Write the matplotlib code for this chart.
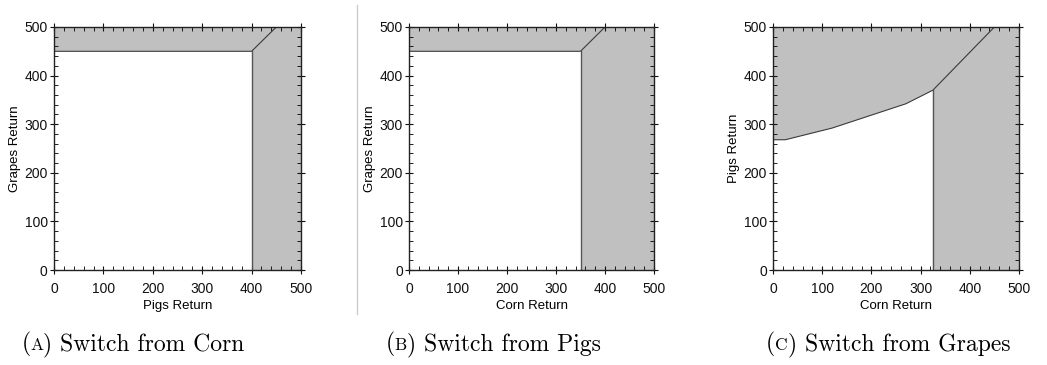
import matplotlib
matplotlib.use("Agg")
import matplotlib.pyplot as plt
from matplotlib.ticker import MultipleLocator
from matplotlib.lines import Line2D

# ---- data ----
x_labels = ["Pigs Return", "Corn Return", "Corn Return"]
y_labels = ["Grapes Return", "Grapes Return", "Pigs Return"]
caption_letters = ["A", "B", "C"]
caption_texts = ["Switch from Corn", "Switch from Pigs", "Switch from Grapes"]

# boundary of the white (stay) region, panel A
a_top_x = [0, 400, 450]
a_top_y = [450, 450, 500]
a_vert_x = [400, 400]
a_vert_y = [0, 450]

# panel B
b_top_x = [0, 350, 400]
b_top_y = [450, 450, 500]
b_vert_x = [350, 350]
b_vert_y = [0, 450]

# panel C
c_top_x = [0, 25, 120, 270, 325, 450, 500]
c_top_y = [268, 268, 292, 342, 370, 500, 500]
c_vert_x = [325, 325]
c_vert_y = [0, 370]

panels = [
    (a_top_x, a_top_y, a_vert_x, a_vert_y),
    (b_top_x, b_top_y, b_vert_x, b_vert_y),
    (c_top_x, c_top_y, c_vert_x, c_vert_y),
]

W, H = 1047, 365
fig = plt.figure(figsize=(W / 100, H / 100), dpi=100)
plt.rcParams['font.family'] = ['Liberation Sans', 'DejaVu Sans']

axes_px = [(54, 301), (409, 654), (773, 1019)]
top_px, bot_px = 27, 270

GRAY = "#c0c0c0"
LINE = "#3a3a3a"

for i, (tx, ty, vx, vy) in enumerate(panels):
    l, r = axes_px[i]
    ax = fig.add_axes([l / W, (H - bot_px) / H, (r - l) / W, (bot_px - top_px) / H])
    ax.set_xlim(0, 500)
    ax.set_ylim(0, 500)
    ax.set_facecolor(GRAY)
    # white region: points of the top boundary up to the corner where the vertical starts
    ncorner = tx.index(vx[0]) + 1
    px = [0] + tx[:ncorner] + [vx[0]]
    py = [0] + ty[:ncorner] + [0]
    ax.fill(px, py, color="white", lw=0, zorder=1)
    ax.plot(tx, ty, color=LINE, lw=0.8, zorder=2)
    ax.plot(vx, vy, color="#555555", lw=1.0, zorder=2)
    ax.xaxis.set_major_locator(MultipleLocator(100))
    ax.yaxis.set_major_locator(MultipleLocator(100))
    ax.xaxis.set_minor_locator(MultipleLocator(20))
    ax.yaxis.set_minor_locator(MultipleLocator(20))
    ax.tick_params(which="major", direction="inout", length=6, width=0.8,
                   top=True, right=True, labelsize=10, colors="#111111")
    ax.tick_params(axis="x", which="major", pad=5.5)
    ax.tick_params(axis="y", which="major", pad=1.5)
    ax.tick_params(which="minor", direction="in", length=3, width=0.6,
                   top=True, right=True)
    for s in ax.spines.values():
        s.set_linewidth(1.0)
        s.set_color("#222222")
        s.set_zorder(3)
    ax.set_xlabel(x_labels[i], fontsize=9.5, labelpad=3)
    ax.set_ylabel(y_labels[i], fontsize=9.5, labelpad=2.5)

# divider line between panel A and B
fig.add_artist(Line2D([357 / W, 357 / W], [1 - 5 / H, 1 - 314 / H],
                      color="#cccccc", lw=1.0))

# captions with small-caps letters
renderer = fig.canvas.get_renderer()
cap_centers = [133, 493, 888]
cap_base = 350
big, small = 17, 12.5
for i in range(3):
    pieces = [("(", big), (caption_letters[i], small), (") " + caption_texts[i], big)]
    texts = []
    for s, fs in pieces:
        t = fig.text(0, 1 - cap_base / H, s, fontsize=fs, family="cmr10",
                     va="baseline", ha="left")
        texts.append(t)
    widths = [t.get_window_extent(renderer).width for t in texts]
    total = sum(widths)
    x = cap_centers[i] - total / 2
    for t, w in zip(texts, widths):
        t.set_x(x / W)
        x += w

fig.savefig("out.png", dpi=100)
